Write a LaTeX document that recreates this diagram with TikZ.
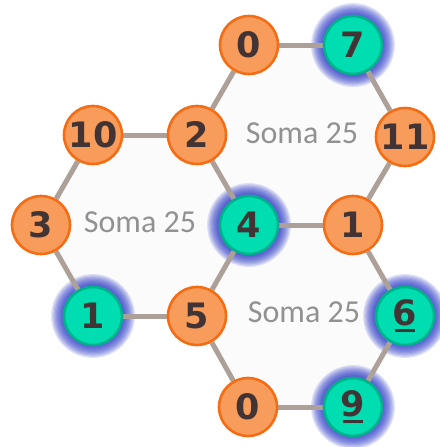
\documentclass[tikz,border=0pt]{standalone}
\usepackage{fontspec}
\setmainfont{Carlito}
\newfontfamily\digitfont{DejaVu Sans}
\usetikzlibrary{positioning}
\definecolor{orfill}{RGB}{248,156,92}
\definecolor{ordraw}{RGB}{244,108,20}
\definecolor{tlfill}{RGB}{0,221,176}
\definecolor{tldraw}{RGB}{0,178,140}
\definecolor{numtext}{RGB}{66,52,52}
\definecolor{edgecol}{RGB}{172,160,152}
\definecolor{somacol}{RGB}{145,145,145}
\definecolor{glowcol}{RGB}{36,50,196}
\definecolor{hexfill}{RGB}{251,251,252}
\newcommand\ulnum[1]{\setbox0\hbox{#1}\vtop{\offinterlineskip\copy0\kern3pt\hbox to\wd0{\hss\rule{0.85\wd0}{2.6pt}\hss}}}
\pgfdeclarelayer{bg}
\pgfsetlayers{bg,main}

\begin{document}
\begin{tikzpicture}[
    x=1pt, y=-1pt,
    ball/.style={circle, draw=ordraw, fill=orfill, line width=2.6pt, minimum size=58pt, inner sep=0pt, text=numtext, font=\digitfont\bfseries\fontsize{35}{35}\selectfont},
    marked/.style={ball, draw=tldraw, fill=tlfill},
    line/.style={draw=edgecol, line width=5pt},
    soma/.style={text=somacol, font=\fontsize{32}{32}\selectfont}
]
    \useasboundingbox (0,0) rectangle (439,447);

    \node [ball] (t0) at (249,45) {0};
    \node [marked] (t7) at (353,45) {7};
    \node [ball] (n10) at (93,135) {10};
    \node [ball] (n2) at (197,135) {2};
    \node [ball] (n11) at (405,137) {11};
    \node [ball] (n3) at (41,225) {3};
    \node [marked] (n4) at (249,225) {4};
    \node [ball] (r1) at (353,225) {1};
    \node [marked] (l1) at (93,316) {1};
    \node [ball] (n5) at (197,316) {5};
    \node [marked] (n6) at (405,316) {\ulnum{6}};
    \node [ball] (b0) at (248,407) {0};
    \node [marked] (n9) at (353,407) {\ulnum{9}};

    \node [soma] (s1) at (302,133) {Soma 25};
    \node [soma] (s2) at (140,222) {Soma 25};
    \node [soma] (s3) at (304,312) {Soma 25};

    \begin{pgfonlayer}{bg}
        \fill [hexfill] (t0.center) -- (t7.center) -- (n11.center) -- (r1.center) -- (n4.center) -- (n2.center) -- cycle;
        \fill [hexfill] (n10.center) -- (n2.center) -- (n4.center) -- (n5.center) -- (l1.center) -- (n3.center) -- cycle;
        \fill [hexfill] (n4.center) -- (r1.center) -- (n6.center) -- (n9.center) -- (b0.center) -- (n5.center) -- cycle;
        \foreach \n in {t7,n4,l1,n6,n9}
            \foreach \r in {30,31.2,...,42}
                \fill [glowcol, opacity=0.13] (\n) circle (\r);
        \path [line] (t0) -- (t7);
        \path [line] (t0) -- (n2);
        \path [line] (t7) -- (n11);
        \path [line] (n10) -- (n2);
        \path [line] (n2) -- (n4);
        \path [line] (n11) -- (r1);
        \path [line] (n10) -- (n3);
        \path [line] (n4) -- (r1);
        \path [line] (n3) -- (l1);
        \path [line] (n4) -- (n5);
        \path [line] (l1) -- (n5);
        \path [line] (r1) -- (n6);
        \path [line] (n5) -- (b0);
        \path [line] (n6) -- (n9);
        \path [line] (b0) -- (n9);
    \end{pgfonlayer}
\end{tikzpicture}
\end{document}
